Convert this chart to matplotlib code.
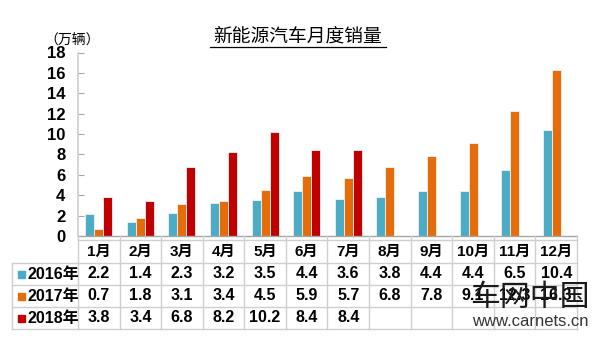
import matplotlib.pyplot as plt
import numpy as np

plt.rcParams['font.family'] = ['Liberation Sans', 'Noto Sans CJK SC']

months = ["1月", "2月", "3月", "4月", "5月", "6月", "7月", "8月", "9月", "10月", "11月", "12月"]
years = ["2016年", "2017年", "2018年"]
sales_2016 = [2.2, 1.4, 2.3, 3.2, 3.5, 4.4, 3.6, 3.8, 4.4, 4.4, 6.5, 10.4]
sales_2017 = [0.7, 1.8, 3.1, 3.4, 4.5, 5.9, 5.7, 6.8, 7.8, 9.1, 12.3, 16.3]
sales_2018 = [3.8, 3.4, 6.8, 8.2, 10.2, 8.4, 8.4]
yticks = [0, 2, 4, 6, 8, 10, 12, 14, 16, 18]

colors = ["#4BACC6", "#E46C0A", "#C00000"]
grid_col = "#CFCFCF"

W, H = 600, 339
fig = plt.figure(figsize=(6.0, 3.39), dpi=100)


def fx(px):
    return px / W


def fy(py):
    return 1 - py / H


# plot area in pixels
left, right, top, bottom = 78, 577, 52.5, 236
ax = fig.add_axes([fx(left), fy(bottom), fx(right) - fx(left), fy(top) - fy(bottom)])

x = np.arange(len(months))
bw = 0.216
series = [sales_2016, sales_2017, sales_2018]
for i, vals in enumerate(series):
    xs = x[:len(vals)] + (i - 1) * bw
    ax.bar(xs, vals, width=bw, color=colors[i], edgecolor="#F2F2F2", linewidth=0.6)

ax.set_xlim(-0.5, len(months) - 0.5)
ax.set_ylim(0, 18)
ax.set_yticks(yticks)
ax.set_yticklabels([str(t) for t in yticks], fontsize=12, fontweight="bold")
ax.tick_params(axis="y", direction="in", length=4, color="#A6A6A6", pad=9)
ax.set_xticks([])
for s in ["top", "right"]:
    ax.spines[s].set_visible(False)
ax.spines["left"].set_color("#D0D0D0")
ax.spines["left"].set_linewidth(1.2)
ax.spines["bottom"].set_color("#A6A6A6")
ax.spines["bottom"].set_linewidth(1.0)

# title and unit label
fig.text(fx(298), fy(37), "新能源汽车月度销量", ha="center", va="center", fontsize=13.5)
fig.add_artist(plt.Line2D([fx(210), fx(386)], [fy(47), fy(47)], color="black", lw=0.9))
fig.text(fx(72), fy(41), "（万辆）", ha="center", va="center", fontsize=10)

# data table under the chart
col_w = (right - left) / len(months)
row_lines = [263, 285, 307, 329]
row_centers = [274, 296, 318]
lc = dict(color=grid_col, lw=1.0)
fig.add_artist(plt.Line2D([fx(left), fx(right)], [fy(240), fy(240)], **lc))
for yl in row_lines:
    fig.add_artist(plt.Line2D([fx(12), fx(right)], [fy(yl), fy(yl)], **lc))
fig.add_artist(plt.Line2D([fx(12), fx(12)], [fy(263), fy(329)], **lc))
for k in range(len(months) + 1):
    xv = left + k * col_w
    fig.add_artist(plt.Line2D([fx(xv), fx(xv)], [fy(236), fy(329)], **lc))

for k, m in enumerate(months):
    cx = left + (k + 0.5) * col_w
    fig.text(fx(cx), fy(252), m, ha="center", va="center", fontsize=11, fontweight="bold")
    for r, vals in enumerate(series):
        if k < len(vals):
            fig.text(fx(cx), fy(row_centers[r]), f"{vals[k]:.1f}", ha="center", va="center",
                     fontsize=11.5, fontweight="bold")

for r, name in enumerate(years):
    fig.add_artist(plt.Rectangle((fx(18), fy(row_centers[r] + 3.5)), fx(7), 7 / H,
                                 color=colors[r], transform=fig.transFigure))
    fig.text(fx(28), fy(row_centers[r]), name, ha="left", va="center", fontsize=11.5, fontweight="bold")

# watermark
fig.text(fx(530), fy(298), "车网中国", ha="center", va="center", fontsize=21.5, color="#1A1A1A")
fig.text(fx(530), fy(321), "www.carnets.cn", ha="center", va="center", fontsize=12, color="#333333")

fig.savefig("out.png", dpi=100)
